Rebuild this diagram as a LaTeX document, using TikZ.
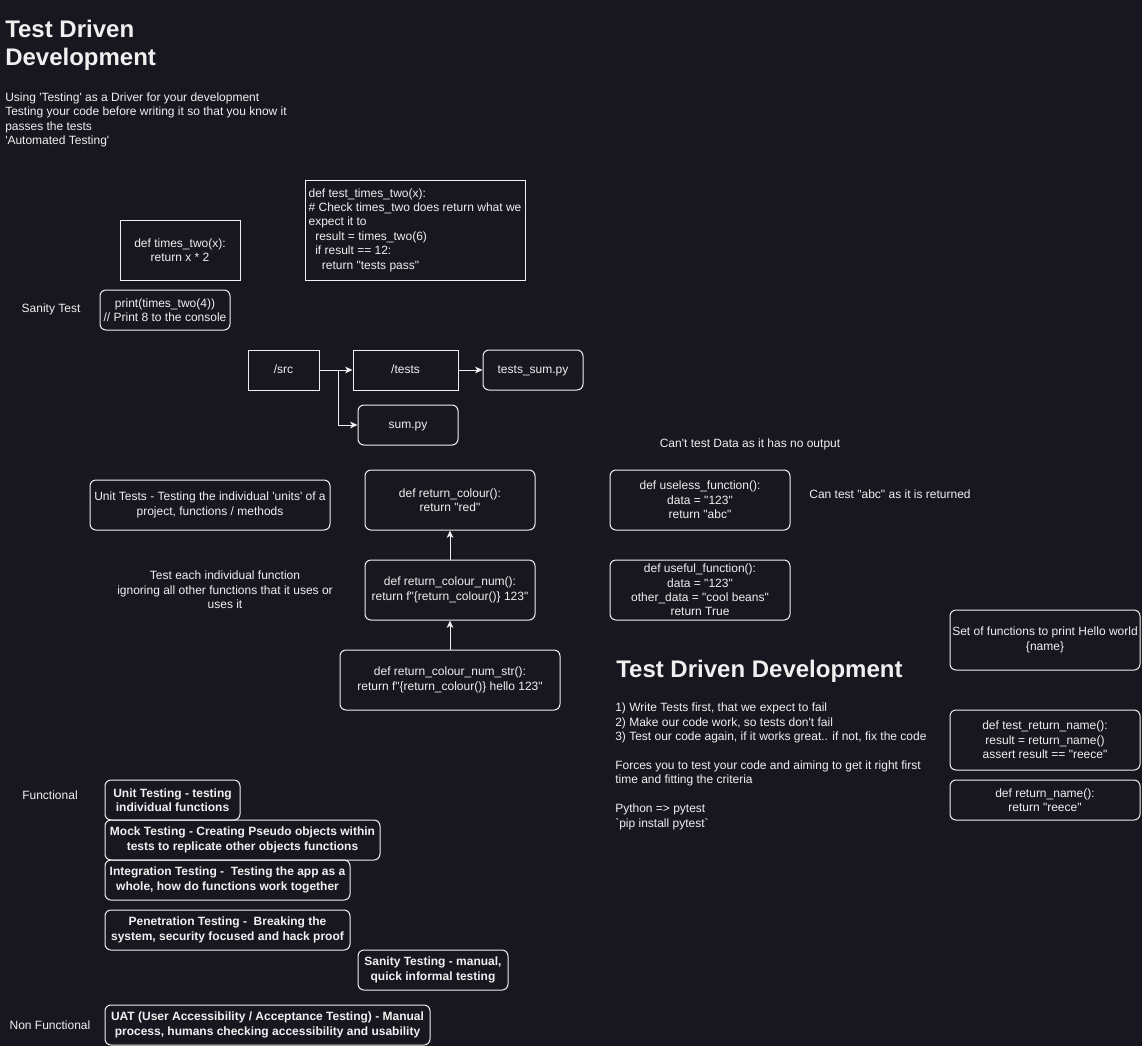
\documentclass[tikz,border=0pt]{standalone}
\usepackage{fontspec}
\setmainfont{Liberation Sans}[Ligatures=TeXOff]
\usetikzlibrary{arrows.meta}
\definecolor{bg}{HTML}{18161F}
\definecolor{fg}{HTML}{F0F0F0}
\newcommand\fsn{\fontsize{9pt}{10.8pt}\selectfont}
\newcommand\fbig{\fontsize{18pt}{21pt}\selectfont\bfseries}
\tikzset{
  txt/.style={text=fg, font=\fsn, align=center, inner sep=0pt},
  sqbox/.style={draw=fg, line width=0.75pt, text=fg, font=\fsn, align=center, inner sep=0pt},
  rbox/.style={sqbox, rounded corners=4.5pt},
  bbox/.style={rbox, font=\fsn\bfseries},
  oneline/.style={text height=0.75em, text depth=0.2em},
  arr/.style={draw=fg, line width=0.75pt, -{Stealth[length=5.5pt,width=5pt,inset=1.5pt]}},
  wh/.style args={#1x#2}{minimum width={#1*0.75pt}, minimum height={#2*0.75pt}}
}
\begin{document}
\begin{tikzpicture}[x=0.75pt, y=-0.75pt]
\fill[bg] (0,0) rectangle (1142,1046);
\useasboundingbox (0,0) rectangle (1142,1046);

% top titles
\node[txt, font=\fbig, align=left, anchor=base west] (title) at (5,65) {Test Driven\\Development};
\node[txt, align=left, anchor=base west] (intro) at (5,144.7) {Using 'Testing' as a Driver for your development\\Testing your code before writing it so that you know it\\passes the tests\\'Automated Testing'};

% times two
\node[sqbox, wh=120x60] (times) at (180,250) {def times\_two(x):\\return x * 2};
\node[sqbox, wh=220x100, align=left] (testtt) at (415,230) {def test\_times\_two(x):\\{}\# Check times\_two does return what we\\expect it to\\\hspace*{5pt}result = times\_two(6)\\\hspace*{5pt}if result == 12:\\\hspace*{10pt}return "tests pass"};
\node[txt] (sanitylbl) at (51,309) {Sanity Test};
\node[rbox, wh=130x40] (print) at (165,310) {print(times\_two(4))\\// Print 8 to the console};

% folder structure
\node[sqbox, oneline, wh=71x40] (src) at (283.5,370) {/src};
\node[sqbox, oneline, wh=105x40] (tests) at (405.5,370) {/tests};
\node[rbox, oneline, wh=100x40] (testsum) at (533,370) {tests\_sum.py};
\node[rbox, oneline, wh=100x40] (sumpy) at (408,425) {sum.py};
\draw[arr] (src.east) -- (tests.west);
\draw[arr] (src.east) -- ++(19,0) |- (sumpy.west);
\draw[arr] (tests.east) -- (testsum.west);

% unit tests
\node[rbox, wh=240x50] (unit) at (210,505) {Unit Tests - Testing the individual 'units' of a\\project, functions / methods};
\node[txt] (eachlbl) at (225,590) {Test each individual function\\ignoring all other functions that it uses or\\uses it};
\node[rbox, wh=170x60] (rc) at (450,500) {def return\_colour():\\return "red"};
\node[rbox, wh=170x60] (rcn) at (450,590) {def return\_colour\_num():\\return f"\{return\_colour()\} 123"};
\node[rbox, wh=220x60] (rcns) at (450,680) {def return\_colour\_num\_str():\\return f"\{return\_colour()\} hello 123"};
\draw[arr] (rcn.north) -- (rc.south);
\draw[arr] (rcns.north) -- (rcn.south);

% useless / useful
\node[txt] (cantlbl) at (750,444) {Can't test Data as it has no output};
\node[rbox, wh=180x60] (useless) at (700,500) {def useless\_function():\\data = "123"\\return "abc"};
\node[txt] (canlbl) at (890,494) {Can test "abc" as it is returned};
\node[rbox, wh=180x60] (useful) at (700,590) {def useful\_function():\\data = "123"\\other\_data = "cool beans"\\return True};

% TDD block
\node[txt, font=\fbig, anchor=base west] (tddhead) at (616,677) {Test Driven Development};
\node[txt, align=left, anchor=base west] (tddtext) at (615,827) {1) Write Tests first, that we expect to fail\\2) Make our code work, so tests don't fail\\3) Test our code again, if it works great.. if not, fix the code\\[10.8pt]Forces you to test your code and aiming to get it right first\\time and fitting the criteria\\[10.8pt]Python => pytest\\`pip install pytest`};

% hello world
\node[rbox, wh=190x60] (setfn) at (1045,640) {Set of functions to print Hello world\\\{name\}};
\node[rbox, wh=190x60] (trn) at (1045,740) {def test\_return\_name():\\result = return\_name()\\assert result == "reece"};
\node[rbox, wh=190x40] (rn) at (1045,800) {def return\_name():\\return "reece"};

% testing types
\node[txt] (funclbl) at (50,795) {Functional};
\node[bbox, wh=135x40] (ut) at (172.5,800) {Unit Testing - testing\\individual functions};
\node[bbox, wh=275x40] (mock) at (242.5,840) {Mock Testing - Creating Pseudo objects within\\tests to replicate other objects functions};
\node[bbox, wh=245x40] (integ) at (227.5,880) {Integration Testing - \ Testing the app as a\\whole, how do functions work together};
\node[bbox, wh=245x40] (pen) at (227.5,930) {Penetration Testing - \ Breaking the\\system, security focused and hack proof};
\node[bbox, wh=150x40] (sanityt) at (433,970) {Sanity Testing - manual,\\quick informal testing};
\node[txt] (nonfunclbl) at (50,1025) {Non Functional};
\node[bbox, wh=325x40] (uat) at (267.5,1025) {UAT (User Accessibility / Acceptance Testing) - Manual\\process, humans checking accessibility and usability};
\end{tikzpicture}
\end{document}
